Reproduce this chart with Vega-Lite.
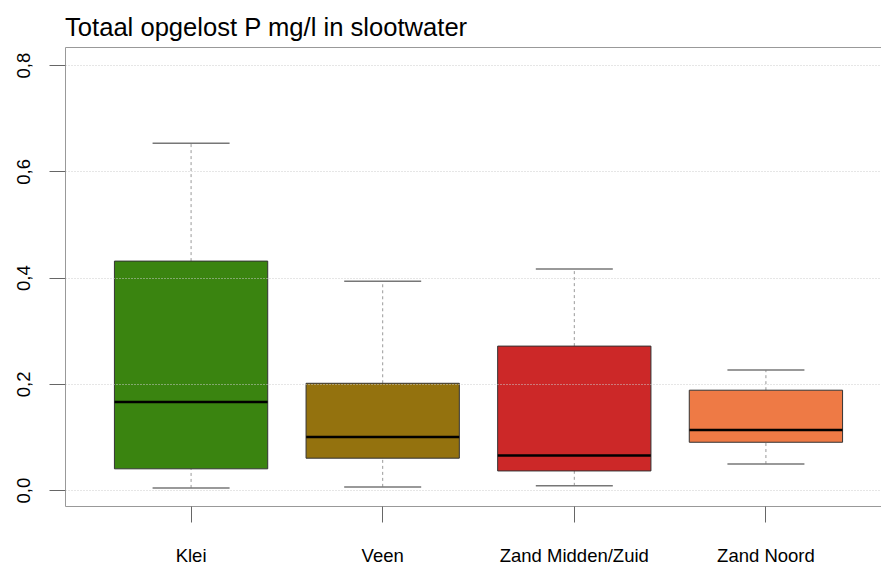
{
  "$schema": "https://vega.github.io/schema/vega-lite/v6.json",
  "autosize": {"type": "none"},
  "padding": {"left": 65, "top": 47, "right": 0, "bottom": 59},
  "width": 827,
  "height": 459,
  "background": "white",
  "title": {"text": "Totaal opgelost P mg/l in slootwater", "anchor": "start", "frame": "group", "fontSize": 25.6, "font": "Liberation Sans", "fontWeight": "normal", "color": "#000", "offset": 5},
  "config": {
    "view": {"stroke": "#999", "strokeWidth": 1},
    "axis": {"labelFont": "Liberation Sans", "labelColor": "#000", "domain": false, "tickColor": "#666", "tickSize": 16, "title": null}
  },
  "data": {"values": [
    {"cat": "Klei", "lo": 0.004, "q1": 0.040, "med": 0.166, "q3": 0.431, "hi": 0.653},
    {"cat": "Veen", "lo": 0.006, "q1": 0.060, "med": 0.100, "q3": 0.201, "hi": 0.393},
    {"cat": "Zand Midden/Zuid", "lo": 0.008, "q1": 0.036, "med": 0.065, "q3": 0.271, "hi": 0.416},
    {"cat": "Zand Noord", "lo": 0.049, "q1": 0.090, "med": 0.113, "q3": 0.188, "hi": 0.226}
  ]},
  "encoding": {
    "x": {"field": "cat", "type": "nominal", "sort": null,
      "scale": {"type": "band", "paddingInner": 0, "paddingOuter": 0.158},
      "axis": {"labelAngle": 0, "labelFontSize": 18.5, "labelPadding": 24, "grid": false}}
  },
  "layer": [
    {"mark": {"type": "rule", "color": "#999", "strokeDash": [3, 3], "strokeWidth": 1},
     "encoding": {"y": {"field": "q3", "type": "quantitative",
        "scale": {"domain": [-0.030, 0.834], "nice": false, "zero": false},
        "axis": {"values": [0, 0.2, 0.4, 0.6, 0.8], "labelAngle": -90, "labelFontSize": 18.5, "labelPadding": 16,
          "labelExpr": "replace(format(datum.value, '.1f'), '.', ',')",
          "grid": true, "gridColor": "#ccc", "gridDash": [1, 2], "gridWidth": 1, "zindex": 1}},
       "y2": {"field": "hi"}}},
    {"mark": {"type": "rule", "color": "#999", "strokeDash": [3, 3], "strokeWidth": 1},
     "encoding": {"y": {"field": "lo", "type": "quantitative"}, "y2": {"field": "q1"}}},
    {"mark": {"type": "tick", "color": "#777", "size": 77, "thickness": 1.5, "opacity": 1},
     "encoding": {"y": {"field": "hi", "type": "quantitative"}}},
    {"mark": {"type": "tick", "color": "#777", "size": 77, "thickness": 1.5, "opacity": 1},
     "encoding": {"y": {"field": "lo", "type": "quantitative"}}},
    {"mark": {"type": "bar", "width": {"band": 0.8}, "stroke": "#333", "strokeWidth": 1, "opacity": 1},
     "encoding": {"y": {"field": "q1", "type": "quantitative"}, "y2": {"field": "q3"},
       "color": {"field": "cat", "type": "nominal", "legend": null,
         "scale": {"domain": ["Klei", "Veen", "Zand Midden/Zuid", "Zand Noord"], "range": ["#3a8410", "#94720e", "#cc2828", "#ee7a45"]}}}},
    {"mark": {"type": "tick", "color": "#000", "size": 153, "thickness": 2.5, "opacity": 1},
     "encoding": {"y": {"field": "med", "type": "quantitative"}}}
  ]
}
